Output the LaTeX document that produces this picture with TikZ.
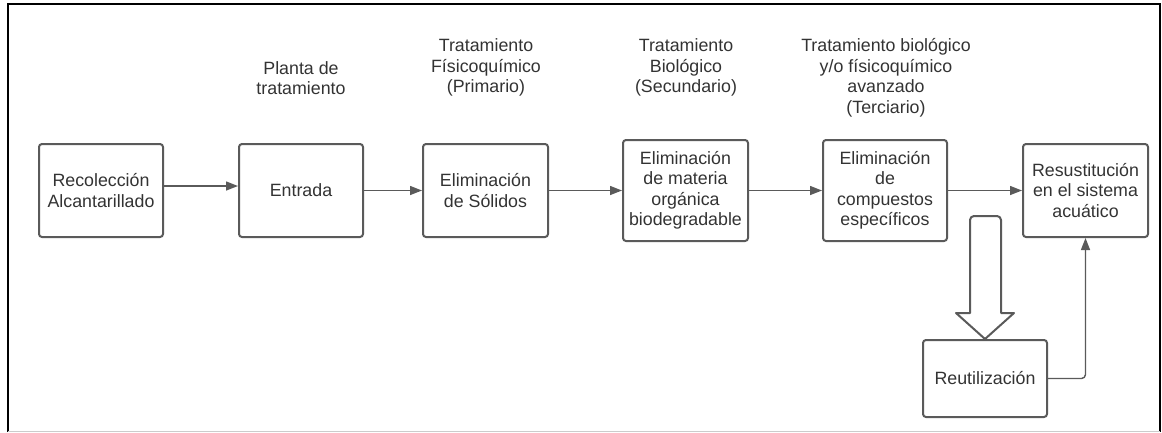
\documentclass[tikz,border=0pt]{standalone}
\usepackage{fontspec}
\setmainfont{Liberation Sans}
\usetikzlibrary{arrows.meta}
\definecolor{edge}{HTML}{5A5A5A}
\definecolor{txt}{HTML}{333333}
\begin{document}
\begin{tikzpicture}[x=1pt,y=-1pt,
  box/.style={draw=edge,line width=2pt,rounded corners=3pt,align=center,text=txt,
    font=\fontsize{17.8}{20.5}\selectfont,inner sep=0pt},
  ttl/.style={align=center,text=txt,font=\fontsize{17.8}{20.5}\selectfont,inner sep=0pt},
  conn/.style={draw=edge,line width=1.4pt,-{Triangle[length=12pt,width=9pt]}}]
\useasboundingbox (0,0) rectangle (1162,432);
\draw[black,line width=2.5pt] (8,432) -- (8,4) -- (1160,4) -- (1160,432);
\draw[gray!40,line width=1pt] (8,431) -- (1160,431);
% boxes
\node[box,minimum width=124pt,minimum height=93pt] (rec) at (101,190.5) {Recolección\\Alcantarillado};
\node[box,minimum width=124pt,minimum height=93pt] (ent) at (301,190.5) {Entrada};
\node[box,minimum width=125pt,minimum height=93pt] (sol) at (485.5,190.5) {Eliminación\\de Sólidos};
\node[box,minimum width=125pt,minimum height=101pt] (mat) at (685.5,190.5) {Eliminación\\de materia\\orgánica\\biodegradable};
\node[box,minimum width=124pt,minimum height=101pt] (com) at (885,190.5) {Eliminación\\de\\compuestos\\específicos};
\node[box,minimum width=125pt,minimum height=93pt] (res) at (1085.5,190.5) {Resustitución\\en el sistema\\acuático};
\node[box,minimum width=124pt,minimum height=77pt] (reu) at (985,378.5) {Reutilización};
% titles
\node[ttl] (t1) at (301,78) {Planta de\\tratamiento};
\node[ttl] (t2) at (486,67.5) {Tratamiento\\Físicoquímico\\(Primario)};
\node[ttl] (t3) at (686,67.5) {Tratamiento\\Biológico\\(Secundario)};
\node[ttl] (t4) at (886,78) {Tratamiento biológico\\y/o físicoquímico\\avanzado\\(Terciario)};
% connectors
\draw[conn] ([yshift=4.5pt]rec.east) -- ([yshift=4.5pt]ent.west);
\draw[conn] (ent) -- (sol);
\draw[conn] (sol) -- (mat);
\draw[conn] (mat) -- (com);
\draw[conn] (com) -- (res);
\draw[conn,rounded corners=4pt] (reu.east) -| (res.south);
% hollow arrow
\coordinate (tip) at (reu.north);
\draw[edge,line width=2pt,line join=round] (tip) -- (956,313) -- (970,313)
  [rounded corners=4pt] -- (970,216) -- (1001,216) [sharp corners] -- (1001,313) -- (1014,313) -- cycle;
\end{tikzpicture}
\end{document}
